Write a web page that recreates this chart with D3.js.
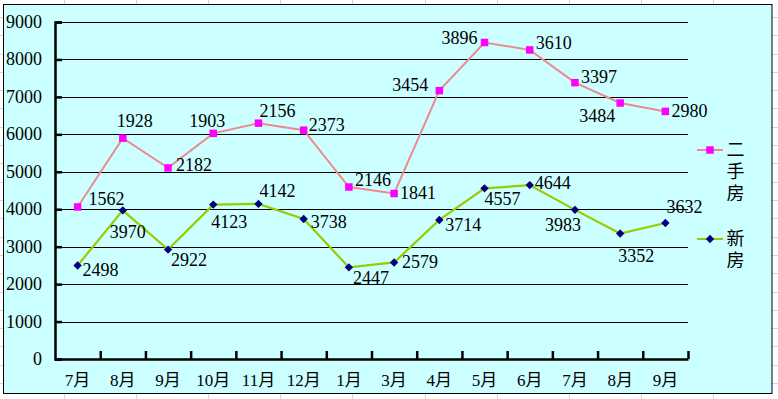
<!DOCTYPE html>
<html><head><meta charset="utf-8">
<script src="https://cdn.jsdelivr.net/npm/d3@7"></script>
<style>html,body{margin:0;padding:0;background:#fff;}svg{display:block;}</style>
</head><body>
<script>
// ---- data ----
const categories = ["7月","8月","9月","10月","11月","12月","1月","3月","4月","5月","6月","7月","8月","9月"];
const newHouse  = [2498,3970,2922,4123,4142,3738,2447,2579,3714,4557,4644,3983,3352,3632]; // 新房
const usedHouse = [1562,1928,2182,1903,2156,2373,2146,1841,3454,3896,3610,3397,3484,2980]; // 二手房 (stacked on 新房)
const yTicks = [0,1000,2000,3000,4000,5000,6000,7000,8000,9000];
const seriesNames = ["新房","二手房"];

// ---- label placement (layout) ----
const usedLabelOff = [[11,-2],[-6,-11],[8,3],[-24,-6],[1,-6],[5,1],[6,-1],[6,6],[-47,0],[-43,2],[6,-1],[6,0],[-41,19],[6,6]];
const newLabelOff  = [[5,11],[-13,28],[3,16],[-2,23],[1,-7],[7,9],[4,17],[8,6],[6,11],[0,17],[5,4],[-30,21],[-2,29],[1,-10]];

const W = 778, H = 399;
const svg = d3.select("body").append("svg").attr("width", W).attr("height", H);
const numFont = "'Liberation Serif','Noto Sans CJK SC',serif";
const cjkFont = "'Liberation Serif','Noto Sans CJK SC',sans-serif";

// excel sheet grid behind chart
const sheet = svg.append("g").attr("stroke", "#d6d6d6").attr("stroke-width", 1);
for (let x = 64; x < W; x += 72.1) sheet.append("line").attr("x1", Math.round(x)+0.5).attr("x2", Math.round(x)+0.5).attr("y1", 0).attr("y2", H);
for (let y = 17; y < H; y += 18.3) sheet.append("line").attr("x1", 0).attr("x2", W).attr("y1", Math.round(y)+0.5).attr("y2", Math.round(y)+0.5);

// chart area
svg.append("rect").attr("x", 3.5).attr("y", 4.5).attr("width", 768.5).attr("height", 389)
  .attr("fill", "#CCFFFF").attr("stroke", "#000").attr("stroke-width", 1);

const x0 = 55, x1 = 688, yTop = 22, yBot = 359;
const idx = categories.map((d, i) => i);
const xb = d3.scaleBand().domain(idx).range([x0, x1]).padding(0);
const xc = i => xb(i) + xb.bandwidth() / 2;
const y = d3.scaleLinear().domain([0, 9000]).range([yBot, yTop]);

// gridlines
svg.append("g").selectAll("line").data(yTicks.filter(d => d > 0)).join("line")
  .attr("x1", x0).attr("x2", x1).attr("y1", d => Math.round(y(d)) + 0.5).attr("y2", d => Math.round(y(d)) + 0.5)
  .attr("stroke", "#000").attr("stroke-width", 1);

// y axis
const yAxis = d3.axisRight(y).tickValues(yTicks).tickSize(7).tickFormat("");
const gy = svg.append("g").attr("transform", `translate(${x0},0)`).call(yAxis);
gy.select(".domain").attr("stroke", "#000").attr("stroke-width", 2.5);
gy.selectAll(".tick line").attr("stroke", "#000").attr("stroke-width", 2.5);
svg.append("g").selectAll("text").data(yTicks).join("text")
  .attr("x", 42).attr("y", d => y(d) + 6).attr("text-anchor", "end")
  .attr("font-family", numFont).attr("font-size", 18).attr("fill", "#000").text(d => d);

// x axis
const xAxis = d3.axisTop(d3.scaleLinear().domain([0, categories.length]).range([x0, x1]))
  .tickValues(d3.range(1, categories.length + 1)).tickSize(8).tickFormat("").tickSizeOuter(0);
const gx = svg.append("g").attr("transform", `translate(0,${yBot})`).call(xAxis);
gx.select(".domain").attr("stroke", "#000").attr("stroke-width", 2.5);
gx.selectAll(".tick line").attr("stroke", "#000").attr("stroke-width", 2.5);
svg.append("g").selectAll("text").data(categories).join("text")
  .attr("x", (d, i) => xc(i)).attr("y", 386).attr("text-anchor", "middle")
  .attr("font-family", cjkFont).attr("font-size", 17).attr("fill", "#000").text(d => d);

// stacked series
const rows = idx.map(i => ({"新房": newHouse[i], "二手房": usedHouse[i]}));
const stacked = d3.stack().keys(seriesNames)(rows);
const sNew = stacked[0], sUsed = stacked[1];

const line = d3.line().x((d, i) => xc(i)).y(d => y(d[1]));
svg.append("path").datum(sUsed).attr("d", line).attr("fill", "none").attr("stroke", "#EE8A8E").attr("stroke-width", 2);
svg.append("path").datum(sNew).attr("d", line).attr("fill", "none").attr("stroke", "#99CC00").attr("stroke-width", 2.2);

const sqPath = d3.symbol().type(d3.symbolSquare).size(56)();
const dmPath = "M0,-4.2L4.2,0L0,4.2L-4.2,0Z";
svg.append("g").selectAll("path").data(sUsed).join("path")
  .attr("transform", (d, i) => `translate(${xc(i)},${y(d[1])})`).attr("d", sqPath).attr("fill", "#FF00FF");
svg.append("g").selectAll("path").data(sNew).join("path")
  .attr("transform", (d, i) => `translate(${xc(i)},${y(d[1])})`).attr("d", dmPath).attr("fill", "#000080");

// data labels
svg.append("g").selectAll("text").data(sUsed).join("text")
  .attr("x", (d, i) => xc(i) + usedLabelOff[i][0]).attr("y", (d, i) => y(d[1]) + usedLabelOff[i][1])
  .attr("font-family", numFont).attr("font-size", 18).attr("fill", "#000").text((d, i) => usedHouse[i]);
svg.append("g").selectAll("text").data(sNew).join("text")
  .attr("x", (d, i) => xc(i) + newLabelOff[i][0]).attr("y", (d, i) => y(d[1]) + newLabelOff[i][1])
  .attr("font-family", numFont).attr("font-size", 18).attr("fill", "#000").text((d, i) => newHouse[i]);

// legend
const legend = [
  {name: "二手房", color: "#EE8A8E", marker: sqPath, mfill: "#FF00FF", y: 150},
  {name: "新房", color: "#99CC00", marker: dmPath, mfill: "#000080", y: 239}
];
const lg = svg.append("g").selectAll("g").data(legend).join("g");
lg.append("line").attr("x1", 697).attr("x2", 723).attr("y1", d => d.y).attr("y2", d => d.y)
  .attr("stroke", d => d.color).attr("stroke-width", 2);
lg.append("path").attr("transform", d => `translate(710,${d.y})`).attr("d", d => d.marker).attr("fill", d => d.mfill);
lg.each(function(d) {
  d3.select(this).selectAll("text").data(Array.from(d.name)).join("text")
    .attr("x", 735.5).attr("y", (c, k) => d.y + k * 22).attr("text-anchor", "middle")
    .attr("dominant-baseline", "central").attr("font-family", cjkFont).attr("font-size", 18)
    .attr("fill", "#000").text(c => c);
});
</script>
</body></html>
